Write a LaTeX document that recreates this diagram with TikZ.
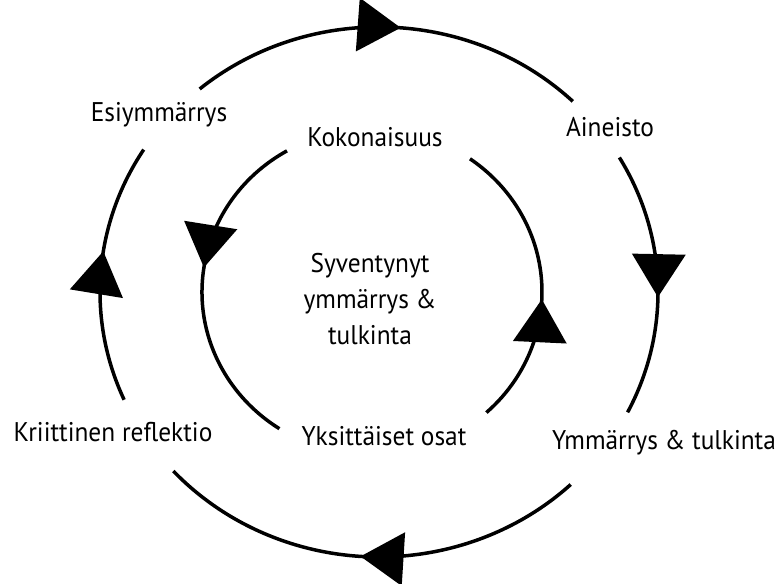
\documentclass[tikz,border=0pt]{standalone}
\usepackage{fontspec}
\setmainfont[FakeStretch=0.94]{PT Sans}
\usetikzlibrary{arrows.meta,decorations.markings}
\tikzset{
  cyc/.style={line width=3.5pt, postaction={decorate},
    decoration={markings, mark=at position #1 with {\arrow{Triangle[length=43pt,width=53pt]}}}},
  lbl/.style={font=\fontsize{27}{36}\selectfont, align=center},
}
\begin{document}
\begin{tikzpicture}[x=1pt,y=1pt]
  \useasboundingbox (0,0) rectangle (778,583);

  % outer cycle, clockwise
  \draw[cyc=0.53] (379,291) ++(130:279 and 265) arc[start angle=130, end angle=46, x radius=279, y radius=265];
  \draw[cyc=0.55] (379,291) ++(30.5:279 and 265) arc[start angle=30.5, end angle=-27, x radius=279, y radius=265];
  \draw[cyc=0.52] (379,291) ++(-46.6:279 and 265) arc[start angle=-46.6, end angle=-137.5, x radius=279, y radius=265];
  \draw[cyc=0.58] (379,291) ++(204:279 and 265) arc[start angle=204, end angle=147.5, x radius=279, y radius=265];

  % inner cycle, counterclockwise
  \draw[cyc=0.44] (372,291) ++(120:170 and 163) arc[start angle=120, end angle=237, x radius=170, y radius=163];
  \draw[cyc=0.44] (372,291) ++(-47.7:170 and 163) arc[start angle=-47.7, end angle=54.8, x radius=170, y radius=163];

  \node[lbl] (esi) at (159,468) {Esiymmärrys};
  \node[lbl] (kok) at (375,446) {Kokonaisuus};
  \node[lbl] (ain) at (610,456) {Aineisto};
  \node[lbl] (syv) at (370,284) {Syventynyt\\ymmärrys \&\\tulkinta};
  \node[lbl] (kri) at (113,151) {Kriittinen reflektio};
  \node[lbl] (yks) at (384,147) {Yksittäiset osat};
  \node[lbl] (ymm) at (664,140) {Ymmärrys \& tulkinta};
\end{tikzpicture}
\end{document}
